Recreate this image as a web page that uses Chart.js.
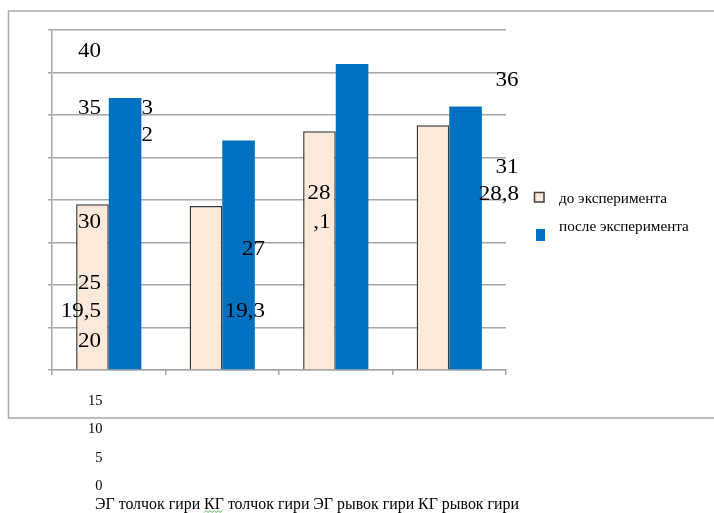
<!DOCTYPE html>
<html>
<head>
<meta charset="utf-8">
<script src="https://cdn.jsdelivr.net/npm/chart.js@4.4.1/dist/chart.umd.min.js"></script>
<style>
  html, body { margin: 0; padding: 0; background: #fff; }
  #wrap { position: relative; width: 714px; height: 513px; }
</style>
</head>
<body>
<div id="wrap"><canvas id="chart" width="714" height="513"></canvas></div>
<script>
const categories = ['ЭГ толчок гири', 'КГ толчок гири', 'ЭГ рывок гири', 'КГ рывок гири'];
const seriesNames = ['до эксперимента', 'после эксперимента'];
const before = [19.5, 19.3, 28.1, 28.8];
const after = [32, 27, 36, 31];
const yTicks = [40, 35, 30, 25, 20, 15, 10, 5, 0];

const PEACH = '#fde9d9';
const BLUE = '#0070c0';
const GRID = '#a6a6a6';
const SERIF = '"Liberation Serif", "Times New Roman", serif';

const fmt = v => String(v).replace('.', ',');

// labels that ended up scattered across the plot when the chart was pasted
function strayLabels() {
  const b = before.map(fmt), a = after.map(fmt);
  const t = yTicks.map(String);
  return [
    // text, x, baseline, align
    [t[0], 101, 57, 'right'],
    [t[1], 101, 114, 'right'],
    [a[0].slice(0, 1), 141.5, 114, 'left'],
    [a[0].slice(1), 141.5, 141, 'left'],
    [t[2], 101, 228, 'right'],
    [t[3], 101, 289, 'right'],
    [b[0], 101, 317, 'right'],
    [t[4], 101, 346.5, 'right'],
    [a[1], 265, 255, 'right'],
    [b[1], 265, 317, 'right'],
    [b[2].slice(0, 2), 330.5, 199, 'right'],
    [b[2].slice(2), 330.5, 227.5, 'right'],
    [a[2], 518.5, 85.5, 'right'],
    [a[3], 518.5, 172.5, 'right'],
    [b[3], 519, 200, 'right']
  ];
}

// text slightly widened, as in the exported picture
function wideText(ctx, txt, x, y, align, sx) {
  ctx.save();
  ctx.translate(x, y);
  ctx.scale(sx, 1);
  ctx.textAlign = align;
  ctx.fillText(txt, 0, 0);
  ctx.restore();
}

const decor = {
  id: 'decor',
  beforeDraw(chart) {
    const ctx = chart.ctx;
    ctx.save();
    ctx.fillStyle = '#fff';
    ctx.fillRect(0, 0, chart.width, chart.height);
    ctx.strokeStyle = '#a9a9a9';
    ctx.lineWidth = 1.5;
    ctx.strokeRect(8.5, 11, 720, 407);
    ctx.restore();
  },
  afterDraw(chart) {
    const ctx = chart.ctx;
    ctx.save();
    ctx.fillStyle = '#000';
    ctx.textBaseline = 'alphabetic';

    ctx.font = '21.5px ' + SERIF;
    strayLabels().forEach(([txt, x, y, align]) => wideText(ctx, txt, x, y, align, 1.07));

    // lower tick values, pushed out under the frame
    ctx.font = '14.5px ' + SERIF;
    ctx.textAlign = 'right';
    yTicks.slice(5).forEach((v, i) => ctx.fillText(String(v), 102.5, 405 + i * 28.4));

    // category names run together on one line
    ctx.font = '15.9px ' + SERIF;
    ctx.textAlign = 'left';
    const line = categories.join(' ');
    ctx.fillText(line, 95, 509);

    // spell-check squiggle under the second "КГ"
    const sqX = 95 + ctx.measureText(categories[0] + ' ').width;
    const sqW = ctx.measureText(categories[1].slice(0, 2)).width;
    ctx.strokeStyle = '#4caf50';
    ctx.lineWidth = 1;
    ctx.beginPath();
    for (let i = 0; i * 2 <= sqW; i++) {
      ctx.lineTo(sqX + i * 2, i % 2 === 0 ? 512.5 : 510.5);
    }
    ctx.stroke();

    // legend
    ctx.font = '15.2px ' + SERIF;
    ctx.fillStyle = PEACH;
    ctx.fillRect(534.5, 192.5, 9.5, 9.5);
    ctx.strokeStyle = '#404040';
    ctx.lineWidth = 1.5;
    ctx.strokeRect(534.5, 192.5, 9.5, 9.5);
    ctx.fillStyle = BLUE;
    ctx.fillRect(536, 229, 9, 12);
    ctx.fillStyle = '#000';
    ctx.fillText(seriesNames[0], 559, 202.5);
    ctx.fillText(seriesNames[1], 559, 230.5);
    ctx.restore();
  }
};

new Chart(document.getElementById('chart'), {
  type: 'bar',
  data: {
    labels: categories,
    datasets: [
      {
        label: seriesNames[0],
        data: before,
        backgroundColor: PEACH,
        borderColor: '#3a3a3a',
        borderWidth: { top: 1.5, left: 1.5, right: 1.5, bottom: 0 }
      },
      {
        label: seriesNames[1],
        data: after,
        backgroundColor: BLUE,
        borderWidth: 0
      }
    ]
  },
  options: {
    responsive: false,
    animation: false,
    devicePixelRatio: 1,
    layout: { padding: { left: 48, right: 208, top: 30, bottom: 138 } },
    datasets: { bar: { categoryPercentage: 0.575, barPercentage: 1 } },
    plugins: { legend: { display: false }, tooltip: { enabled: false } },
    scales: {
      x: {
        offset: true,
        ticks: { display: false },
        grid: { offset: true, drawOnChartArea: false, tickLength: 5, color: GRID, lineWidth: 1.5 },
        border: { color: GRID, width: 1.5 },
        afterFit: s => { s.height = 5; }
      },
      y: {
        min: 0,
        max: 40,
        ticks: { display: false, stepSize: 5 },
        grid: { tickLength: 4, color: GRID, lineWidth: 1.5 },
        border: { color: GRID, width: 1.5 },
        afterFit: s => { s.width = 4; }
      }
    }
  },
  plugins: [decor]
});
</script>
</body>
</html>
